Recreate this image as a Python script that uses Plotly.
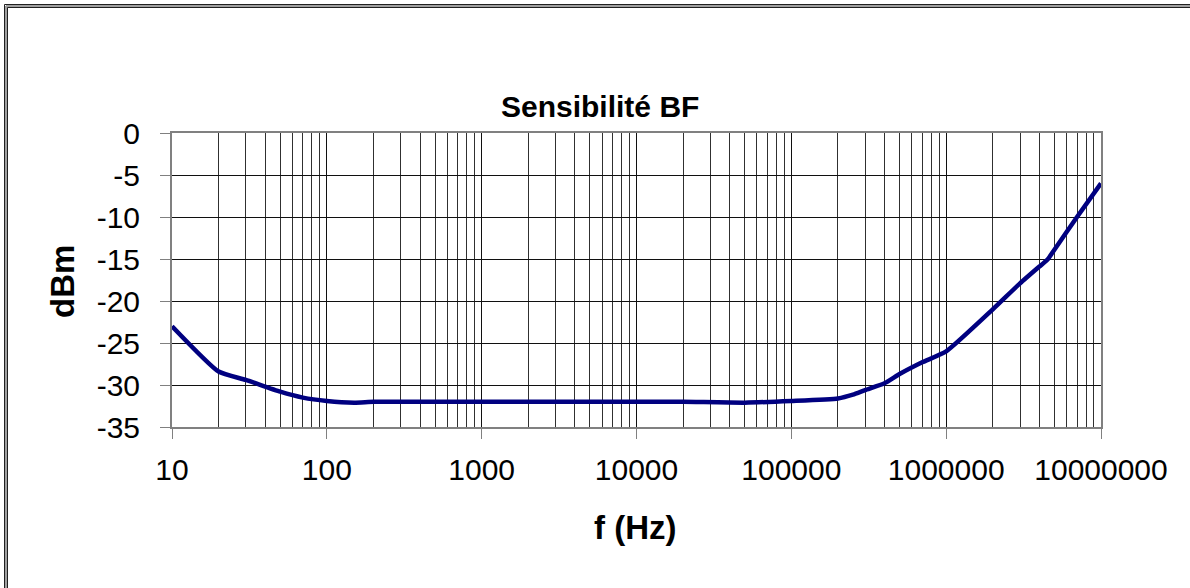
import plotly.graph_objects as go

# ---- data ----
freq_hz = [10, 20, 30, 50, 70, 100, 150, 200, 500, 1000, 2000, 5000, 10000,
           20000, 50000, 100000, 200000, 250000, 300000, 400000, 500000, 700000,
           1000000, 2000000, 3000000, 4000000, 4500000, 5000000, 7000000, 10000000]
sens_dbm = [-23.0, -28.4, -29.4, -30.8, -31.5, -31.9, -32.1, -32.0, -32.0, -32.0, -32.0, -32.0, -32.0,
            -32.0, -32.1, -31.9, -31.6, -31.15, -30.6, -29.8, -28.7, -27.3,
            -26.0, -21.0, -17.9, -15.9, -15.1, -13.9, -10.0, -6.0]

x_major_vals = [10, 100, 1000, 10000, 100000, 1000000, 10000000]
x_major_text = ["10", "100", "1000", "10000", "100000", "1000000", "10000000"]
y_tick_vals = [0, -5, -10, -15, -20, -25, -30, -35]
y_tick_text = ["0", "-5", "-10", "-15", "-20", "-25", "-30", "-35"]

title_text = "Sensibilité BF"
x_title = "f (Hz)"
y_title = "dBm"

# ---- layout geometry (pixels) ----
W, H = 1190, 588
L, R, T, B = 172, 1101, 133, 427
pw, ph = R - L, B - T

def px(x):
    return (x - L) / pw

def py(y):
    return (B - y) / ph

FONT = "Liberation Sans, Arial, sans-serif"

minor_vals = [m * d for d in x_major_vals[:-1] for m in range(2, 10)]

fig = go.Figure()
fig.add_trace(go.Scatter(
    x=freq_hz, y=sens_dbm, mode="lines",
    line=dict(color="#000080", width=4.5, shape="spline", smoothing=0.5),
    hoverinfo="x+y", showlegend=False,
))

fig.update_layout(
    width=W, height=H,
    margin=dict(l=L, r=W - R, t=T, b=H - B),
    paper_bgcolor="white", plot_bgcolor="white",
    font=dict(family=FONT, color="black", size=30),
    showlegend=False,
)

fig.update_xaxes(
    type="log", range=[1, 7],
    tickmode="array", tickvals=x_major_vals, ticktext=x_major_text,
    ticks="outside", ticklen=10, tickcolor="#808080", tickwidth=1,
    ticklabelstandoff=5,
    showgrid=True, gridcolor="#101010", gridwidth=1,
    minor=dict(tickmode="array", tickvals=minor_vals, showgrid=True,
               gridcolor="#303030", gridwidth=1, ticks=""),
    showline=True, linecolor="#808080", linewidth=2, mirror=True,
    zeroline=False, tickfont=dict(size=30, family=FONT),
)
fig.update_yaxes(
    range=[-35, 0],
    tickmode="array", tickvals=y_tick_vals, ticktext=y_tick_text,
    ticks="outside", ticklen=10, tickcolor="#808080", tickwidth=1,
    ticklabelstandoff=14,
    showgrid=True, gridcolor="#101010", gridwidth=1,
    showline=True, linecolor="#808080", linewidth=2, mirror=True,
    zeroline=False, tickfont=dict(size=30, family=FONT),
)

annotations = [
    dict(text="<b>%s</b>" % title_text, x=px(600), y=py(107), xref="paper", yref="paper",
         xanchor="center", yanchor="middle", showarrow=False,
         font=dict(size=30, family=FONT, color="black")),
    dict(text="<b>%s</b>" % x_title, x=px(635), y=py(527), xref="paper", yref="paper",
         xanchor="center", yanchor="middle", showarrow=False,
         font=dict(size=33, family=FONT, color="black")),
    dict(text="<b>%s</b>" % y_title, x=px(62), y=py(282), xref="paper", yref="paper",
         xanchor="center", yanchor="middle", showarrow=False, textangle=-90,
         font=dict(size=33, family=FONT, color="black")),
]
fig.update_layout(annotations=annotations)

# outer double frame (top and left edges visible)
shapes = []
shapes.append(dict(type="line", xref="paper", yref="paper",
                   x0=px(6), x1=px(W + 20), y0=py(6), y1=py(6),
                   line=dict(color="#a0a0a0", width=3)))
shapes.append(dict(type="line", xref="paper", yref="paper",
                   x0=px(6), x1=px(6), y0=py(6), y1=py(H + 20),
                   line=dict(color="#a0a0a0", width=3)))
for off in (4.5, 7.5):
    shapes.append(dict(type="line", xref="paper", yref="paper",
                       x0=px(off), x1=px(W + 20), y0=py(off), y1=py(off),
                       line=dict(color="#202020", width=1)))
    shapes.append(dict(type="line", xref="paper", yref="paper",
                       x0=px(off), x1=px(off), y0=py(off), y1=py(H + 20),
                       line=dict(color="#202020", width=1)))
fig.update_layout(shapes=shapes)

fig.write_html("out.html", config={"displayModeBar": False},
               post_script="document.body.style.margin='0px';document.body.style.padding='0px';")
